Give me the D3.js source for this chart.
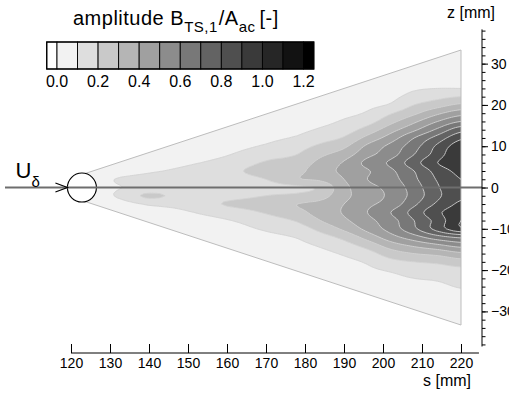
<!DOCTYPE html>
<html><head><meta charset="utf-8">
<script src="https://cdn.jsdelivr.net/npm/d3@7"></script>
<style>
body{margin:0;background:#fff}
svg{display:block}
text{font-family:"Liberation Sans",Arial,Helvetica,sans-serif;fill:#000}
</style>
</head><body>
<svg id="c" width="509" height="396"></svg>
<script>
// ---------------- data ----------------
const sStations = [124,132,140,150,160,170,178,184,190,196,202,208,214,220];
const zStations = [-34,-32,-30,-28,-26,-24,-22,-20,-18,-16,-14,-12,-10,-8,-6,-4,-2,0,2,4,6,8,10,12,14,16,18,20,22,24,26,28,30,32,34];
// amplitude B_TS,1/A_ac, one row per s station, columns follow zStations
const amplitude = [
 [.05,.05,.05,.05,.05,.05,.05,.05,.05,.05,.05,.05,.05,.05,.05,.05,.05,.05,.05,.05,.05,.05,.05,.05,.05,.05,.05,.05,.05,.05,.05,.05,.05,.05,.05],
 [.05,.05,.05,.05,.05,.05,.05,.05,.05,.05,.05,.05,.05,.05,.05,.06,.11,.095,.105,.06,.05,.05,.05,.05,.05,.05,.05,.05,.05,.05,.05,.05,.05,.05,.05],
 [.05,.05,.05,.05,.05,.05,.05,.05,.05,.05,.05,.05,.05,.06,.07,.11,.22,.12,.13,.09,.07,.055,.05,.05,.05,.05,.05,.05,.05,.05,.05,.05,.05,.05,.05],
 [.05,.05,.05,.05,.05,.05,.05,.05,.05,.05,.05,.055,.06,.075,.095,.13,.15,.13,.14,.12,.09,.07,.06,.055,.05,.05,.05,.05,.05,.05,.05,.05,.05,.05,.05],
 [.05,.05,.05,.05,.05,.05,.05,.05,.05,.05,.055,.06,.07,.095,.14,.21,.16,.13,.15,.17,.13,.095,.07,.06,.055,.05,.05,.05,.05,.05,.05,.05,.05,.05,.05],
 [.05,.05,.05,.05,.05,.05,.05,.05,.05,.055,.065,.08,.11,.15,.21,.25,.2,.16,.2,.24,.21,.16,.11,.08,.065,.055,.05,.05,.05,.05,.05,.05,.05,.05,.05],
 [.05,.05,.05,.05,.05,.05,.05,.05,.055,.065,.08,.105,.15,.21,.27,.3,.22,.18,.29,.27,.24,.2,.16,.11,.08,.065,.055,.05,.05,.05,.05,.05,.05,.05,.05],
 [.05,.05,.05,.05,.05,.05,.05,.055,.065,.08,.11,.16,.23,.3,.34,.33,.26,.22,.32,.36,.33,.28,.22,.16,.11,.08,.065,.055,.05,.05,.05,.05,.05,.05,.05],
 [.05,.05,.05,.05,.05,.05,.055,.065,.08,.11,.16,.23,.32,.38,.41,.4,.37,.37,.4,.42,.41,.35,.28,.21,.15,.11,.08,.065,.055,.05,.05,.05,.05,.05,.05],
 [.05,.05,.05,.05,.05,.055,.065,.085,.11,.16,.24,.34,.43,.47,.5,.48,.46,.47,.5,.49,.53,.47,.42,.33,.24,.16,.11,.08,.065,.055,.05,.05,.05,.05,.05],
 [.05,.05,.05,.05,.055,.065,.08,.11,.17,.25,.35,.46,.54,.56,.6,.54,.52,.53,.56,.58,.62,.56,.53,.45,.36,.27,.19,.11,.08,.065,.055,.05,.05,.05,.05],
 [.05,.05,.05,.05,.06,.075,.1,.14,.2,.3,.42,.56,.68,.7,.74,.68,.64,.65,.68,.7,.76,.7,.66,.6,.48,.38,.28,.2,.13,.09,.065,.055,.05,.05,.05],
 [.05,.05,.05,.055,.065,.085,.11,.15,.22,.33,.48,.66,.84,.84,.88,.82,.78,.79,.81,.84,.9,.85,.82,.74,.62,.5,.38,.26,.17,.1,.08,.06,.05,.05,.05],
 [.05,.05,.055,.065,.08,.105,.13,.17,.26,.38,.54,.72,.98,1.0,.96,.92,.88,.88,.9,.93,.98,1.0,.96,.88,.76,.6,.46,.32,.2,.1,.075,.06,.055,.05,.05]
];
const levels = [0,0.1,0.2,0.3,0.4,0.5,0.6,0.7,0.8,0.9,1.0,1.1,1.2];
const levelGray = [242,222,201,181,160,140,120,99,79,58,38,18,0];
const legendLabels = [0,0.2,0.4,0.6,0.8,1.0,1.2];
const xTicks = [120,130,140,150,160,170,180,190,200,210,220];
const yTicks = [-30,-20,-10,0,10,20,30];
const yMinorTicks = [-38,-36,-34,-32,-30,-28,-26,-24,-22,-20,-18,-16,-14,-12,-10,-8,-6,-4,-2,0,2,4,6,8,10,12,14,16,18,20,22,24,26,28,30,32,34,36,38];
const wedgeS = [123,220];
const wedgeHalf = [3.2,33.3];

// ---------------- scales ----------------
const svg = d3.select("#c");
const xS = d3.scaleLinear().domain([120,220]).range([71,461]);
const yS = d3.scaleLinear().domain([-38.5,38]).range([346.5,30.6]);
const gray = v => `rgb(${v},${v},${v})`;

// ---------------- field resampled on a fine grid (Catmull-Rom between stations) ----------------
const ds = 0.5, dz = 0.5;
const s0 = sStations[0], s1 = sStations[sStations.length-1];
const z0 = zStations[0], z1 = zStations[zStations.length-1];
const nx = Math.round((s1-s0)/ds)+1, ny = Math.round((z1-z0)/dz)+1;
const cr = (p0,p1,p2,p3,t)=>0.5*((2*p1)+(-p0+p2)*t+(2*p0-5*p1+4*p2-p3)*t*t+(-p0+3*p1-3*p2+p3)*t*t*t);
const ci = (k,n)=>Math.max(0,Math.min(n-1,k));
function sample(s, z){
  const NS = sStations.length, NZ = zStations.length;
  let i = d3.bisectRight(sStations, s)-1; i = Math.max(0, Math.min(NS-2, i));
  let j = d3.bisectRight(zStations, z)-1; j = Math.max(0, Math.min(NZ-2, j));
  const ts = (s-sStations[i])/(sStations[i+1]-sStations[i]);
  const tz = (z-zStations[j])/(zStations[j+1]-zStations[j]);
  const col = [];
  for(let a=-1;a<=2;a++){
    const row = amplitude[ci(i+a,NS)];
    col.push(cr(row[ci(j-1,NZ)],row[ci(j,NZ)],row[ci(j+1,NZ)],row[ci(j+2,NZ)],tz));
  }
  return Math.max(0.02, cr(col[0],col[1],col[2],col[3],ts));
}
const values = new Float64Array(nx*ny);
for(let r=0;r<ny;r++){ const z=z0+r*dz; for(let c=0;c<nx;c++){ values[r*nx+c]=sample(s0+c*ds, z); } }
const contours = d3.contours().size([nx,ny]).thresholds(levels)(values);
const proj = d3.geoTransform({ point(x,y){ this.stream.point(xS(s0+(x-0.5)*ds), yS(z0+(y-0.5)*dz)); } });
const path = d3.geoPath(proj);

// wedge clip
const wedgePts = [[wedgeS[0],wedgeHalf[0]],[wedgeS[1],wedgeHalf[1]],[wedgeS[1],-wedgeHalf[1]],[wedgeS[0],-wedgeHalf[0]]]
  .map(p=>[xS(p[0]),yS(p[1])]);
svg.append("defs").append("clipPath").attr("id","wedge")
  .append("polygon").attr("points", wedgePts.map(p=>p.join(",")).join(" "));

const g = svg.append("g").attr("clip-path","url(#wedge)");
g.selectAll("path.f").data(contours).join("path").attr("class","f")
  .attr("d", path).attr("fill",(d,i)=>gray(levelGray[i])).attr("stroke","none");
g.selectAll("path.l").data(contours.slice(1)).join("path").attr("class","l")
  .attr("d", path).attr("fill","none").attr("stroke","#d2d2d2").attr("stroke-width",0.9);
svg.append("polygon").attr("points", wedgePts.map(p=>p.join(",")).join(" "))
  .attr("fill","none").attr("stroke","#bdbdbd").attr("stroke-width",1);

// circle, centreline, arrow
svg.append("circle").attr("cx", xS(122.8)).attr("cy", yS(0)).attr("r",14.5)
  .attr("fill","#fff").attr("stroke","#000").attr("stroke-width",1.1);
svg.append("line").attr("x1",5).attr("x2",482).attr("y1",yS(0)).attr("y2",yS(0))
  .attr("stroke","#6e6e6e").attr("stroke-width",2);
const cx0 = xS(122.8)-14.5;
svg.append("polyline").attr("points", `${cx0-12},${yS(0)-4.5} ${cx0},${yS(0)} ${cx0-12},${yS(0)+4.5}`)
  .attr("fill","none").attr("stroke","#000").attr("stroke-width",1.2);
const ut = svg.append("text").attr("x",15.5).attr("y",178).attr("font-size",22);
ut.append("tspan").text("U");
ut.append("tspan").attr("font-size",15).attr("dy",9).text("δ");

// ---------------- axes ----------------
const xAxis = svg.append("g").attr("transform","translate(0,353)")
  .call(d3.axisBottom(xS).tickValues(xTicks).tickSize(-9).tickPadding(5).tickFormat(d3.format("d")));
xAxis.select(".domain").remove();
xAxis.selectAll(".tick line").attr("stroke","#000");
xAxis.selectAll("text").attr("font-size",14).attr("font-family","Liberation Sans, Arial, sans-serif");
svg.append("line").attr("x1",xS(120)).attr("x2",xS(224.6)).attr("y1",353).attr("y2",353).attr("stroke","#000");
svg.append("text").attr("x",471).attr("y",386).attr("text-anchor","end").attr("font-size",16).text("s [mm]");

const yAxis = svg.append("g").attr("transform","translate(482,0)")
  .call(d3.axisRight(yS).tickValues(yTicks).tickSize(6).tickPadding(3).tickFormat(d3.format("d")));
yAxis.select(".domain").remove();
yAxis.selectAll(".tick line").attr("stroke","#000");
yAxis.selectAll("text").attr("font-size",14).attr("font-family","Liberation Sans, Arial, sans-serif");
const yMinor = svg.append("g").attr("transform","translate(482,0)")
  .call(d3.axisRight(yS).tickValues(yMinorTicks).tickSize(3.5).tickFormat(""));
yMinor.select(".domain").remove();
svg.append("line").attr("x1",482).attr("x2",482).attr("y1",yS(38.3)).attr("y2",yS(-38.5)).attr("stroke","#000");
svg.append("text").attr("x",447).attr("y",18).attr("font-size",16).text("z [mm]");

// ---------------- legend ----------------
const lx = d3.scaleLinear().domain([0,1.2]).range([57,303.5]);
const cells = [{a:-0.05,b:0,c:255}].concat(levels.slice(0,12).map((v,i)=>({a:v,b:v+0.1,c:levelGray[i]}))).concat([{a:1.2,b:1.25,c:0}]);
const lg = svg.append("g");
lg.selectAll("rect").data(cells).join("rect")
  .attr("x",d=>lx(d.a)).attr("width",d=>lx(d.b)-lx(d.a)).attr("y",42).attr("height",27)
  .attr("fill",d=>gray(d.c)).attr("stroke","#000").attr("stroke-width",0.9);
lg.append("rect").attr("x",lx(-0.05)).attr("y",42).attr("width",lx(1.25)-lx(-0.05)).attr("height",27)
  .attr("fill","none").attr("stroke","#000").attr("stroke-width",1.3);
lg.selectAll("text").data(legendLabels).join("text")
  .attr("x",d=>lx(d)).attr("y",87).attr("text-anchor","middle").attr("font-size",16).text(d=>d.toFixed(1));
const tt = svg.append("text").attr("x",73).attr("y",25).attr("font-size",20).attr("letter-spacing",0.5);
tt.append("tspan").text("amplitude B");
tt.append("tspan").attr("font-size",15).attr("dy",6.5).text("TS,1");
tt.append("tspan").attr("dy",-6.5).attr("dx",1).text("/A");
tt.append("tspan").attr("font-size",15).attr("dy",6.5).text("ac");
tt.append("tspan").attr("dy",-6.5).attr("dx",4).text("[-]");
</script>
</body></html>
